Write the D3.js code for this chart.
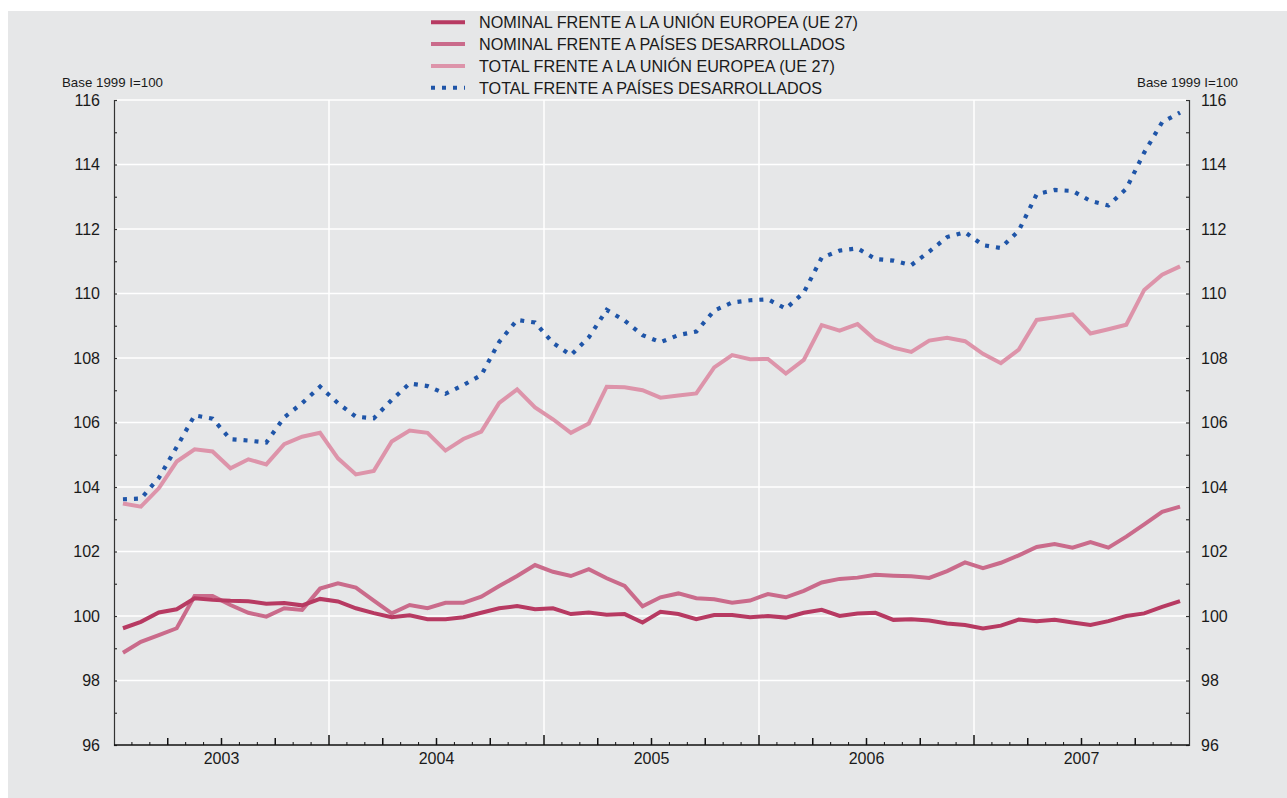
<!DOCTYPE html>
<html>
<head>
<meta charset="utf-8">
<script src="https://cdn.jsdelivr.net/npm/d3@7"></script>
<style>
  body { margin: 0; background: #fff; }
  svg { display: block; font-family: "Liberation Sans", Arial, Helvetica, sans-serif; }
</style>
</head>
<body>
<svg id="chart" width="1287" height="798"></svg>
<script>
// years shown on the x axis, monthly data Jan 2003 - Dec 2007
var years = ["2003", "2004", "2005", "2006", "2007"];
var yTicks = [96, 98, 100, 102, 104, 106, 108, 110, 112, 114, 116];

var nominalUE = [
  99.62, 99.82, 100.11, 100.21, 100.55, 100.50, 100.47, 100.46, 100.38, 100.40, 100.33, 100.53,
  100.45, 100.24, 100.09, 99.96, 100.02, 99.90, 99.90, 99.96, 100.10, 100.24, 100.31, 100.21,
  100.24, 100.06, 100.11, 100.04, 100.06, 99.80, 100.13, 100.06, 99.90, 100.03, 100.03, 99.96,
  100.00, 99.95, 100.10, 100.19, 100.00, 100.08, 100.10, 99.88, 99.90, 99.86, 99.77, 99.72,
  99.61, 99.70, 99.89, 99.84, 99.88, 99.80, 99.72, 99.84, 100.00, 100.08, 100.28, 100.46
];
var nominalDes = [
  98.86, 99.20, 99.41, 99.62, 100.62, 100.62, 100.34, 100.10, 99.98, 100.24, 100.19, 100.85,
  101.01, 100.88, 100.48, 100.08, 100.34, 100.24, 100.41, 100.41, 100.60, 100.93, 101.24, 101.58,
  101.37, 101.24, 101.45, 101.17, 100.93, 100.30, 100.58, 100.70, 100.55, 100.52, 100.41, 100.48,
  100.68, 100.58, 100.78, 101.04, 101.15, 101.19, 101.28, 101.25, 101.23, 101.18, 101.39, 101.66,
  101.48, 101.65, 101.88, 102.14, 102.23, 102.12, 102.29, 102.12, 102.46, 102.84, 103.23, 103.39
];
var totalUE = [
  103.49, 103.39, 103.96, 104.79, 105.17, 105.10, 104.58, 104.86, 104.70, 105.33, 105.56, 105.68,
  104.89, 104.39, 104.50, 105.41, 105.75, 105.68, 105.13, 105.49, 105.72, 106.61, 107.03, 106.47,
  106.10, 105.68, 105.97, 107.11, 107.09, 107.00, 106.77, 106.84, 106.90, 107.71, 108.09, 107.96,
  107.97, 107.52, 107.94, 109.02, 108.85, 109.05, 108.56, 108.32, 108.19, 108.54, 108.63, 108.52,
  108.13, 107.84, 108.26, 109.18, 109.26, 109.35, 108.76, 108.89, 109.03, 110.11, 110.58, 110.84
];
var totalDes = [
  103.62, 103.64, 104.28, 105.24, 106.22, 106.12, 105.48, 105.44, 105.38, 106.16, 106.60, 107.11,
  106.60, 106.18, 106.13, 106.70, 107.21, 107.13, 106.89, 107.16, 107.47, 108.50, 109.18, 109.10,
  108.47, 108.09, 108.64, 109.49, 109.16, 108.71, 108.49, 108.71, 108.82, 109.47, 109.72, 109.79,
  109.82, 109.53, 110.03, 111.11, 111.33, 111.40, 111.07, 111.02, 110.88, 111.30, 111.75, 111.90,
  111.50, 111.41, 111.95, 113.08, 113.21, 113.18, 112.87, 112.73, 113.25, 114.37, 115.31, 115.61
];

var seriesNames = [
  "NOMINAL FRENTE A LA UNIÓN EUROPEA (UE 27)",
  "NOMINAL FRENTE A PAÍSES DESARROLLADOS",
  "TOTAL FRENTE A LA UNIÓN EUROPEA (UE 27)",
  "TOTAL FRENTE A PAÍSES DESARROLLADOS"
];
var seriesData = [nominalUE, nominalDes, totalUE, totalDes];
var seriesColors = ["#b73a62", "#ca6b8b", "#dd94aa", "#1f55a8"];

var svg = d3.select("#chart");
var plotL = 114, plotR = 1189, plotT = 100, plotB = 745;

// gray panel
svg.append("rect").attr("x", 8).attr("y", 11).attr("width", 1287 - 8).attr("height", 798 - 11)
    .attr("fill", "#e6e7e8");

var nMonths = years.length * 12;
var x = d3.scaleLinear().domain([0, nMonths]).range([plotL, plotR]);
var y = d3.scaleLinear().domain([96, 116]).range([plotB, plotT]);

// grid
svg.append("g").selectAll("line")
    .data(yTicks.filter(function(d) { return d > 96; }))
    .enter().append("line")
    .attr("x1", plotL).attr("x2", plotR)
    .attr("y1", function(d) { return y(d); }).attr("y2", function(d) { return y(d); })
    .attr("stroke", "#fff").attr("stroke-width", 1.5);
svg.append("g").selectAll("line")
    .data(d3.range(12, nMonths, 12))
    .enter().append("line")
    .attr("x1", function(d) { return x(d); }).attr("x2", function(d) { return x(d); })
    .attr("y1", plotT).attr("y2", plotB)
    .attr("stroke", "#fff").attr("stroke-width", 1.5);

// y axes (ticks point inward)
var yMinor = d3.range(96, 117, 1);
var leftAxis = d3.axisLeft(y).tickValues(yMinor).tickSize(-3).tickPadding(14)
    .tickFormat(function(d) { return d % 2 == 0 ? d : ""; });
var gl = svg.append("g").attr("transform", "translate(" + plotL + ",0)").call(leftAxis);
var rightAxis = d3.axisRight(y).tickValues(yMinor).tickSize(-3).tickPadding(12)
    .tickFormat(function(d) { return d % 2 == 0 ? d : ""; });
var gr = svg.append("g").attr("transform", "translate(" + plotR + ",0)").call(rightAxis);
[gl, gr].forEach(function(g) {
  g.select(".domain").attr("stroke", "#333").attr("stroke-width", 1.2);
  g.selectAll(".tick line").attr("stroke", "#333").attr("stroke-width", 1.2);
  g.selectAll(".tick text").attr("font-size", 16).attr("fill", "#1a1a1a")
      .attr("font-family", "Liberation Sans, Arial, sans-serif");
});

// x axis: month ticks, longer at quarters and years
var gx = svg.append("g");
gx.append("line").attr("x1", plotL).attr("x2", plotR).attr("y1", plotB).attr("y2", plotB)
    .attr("stroke", "#111").attr("stroke-width", 1.6);
gx.selectAll("line.tk")
    .data(d3.range(1, nMonths))
    .enter().append("line").attr("class", "tk")
    .attr("x1", function(d) { return x(d); }).attr("x2", function(d) { return x(d); })
    .attr("y1", plotB)
    .attr("y2", function(d) { return plotB - (d % 12 == 0 ? 10 : (d % 3 == 0 ? 7 : 3)); })
    .attr("stroke", "#111").attr("stroke-width", function(d) { return d % 3 == 0 ? 1.5 : 1; });
gx.selectAll("text")
    .data(years)
    .enter().append("text")
    .attr("x", function(d, i) { return x(i * 12 + 6); })
    .attr("y", 764)
    .attr("text-anchor", "middle").attr("font-size", 16).attr("fill", "#1a1a1a")
    .text(function(d) { return d; });

// unit labels
svg.append("text").attr("x", 62).attr("y", 87).attr("font-size", 13.3).attr("fill", "#1a1a1a")
    .text("Base 1999 I=100");
svg.append("text").attr("x", 1238).attr("y", 87).attr("text-anchor", "end").attr("font-size", 13.3)
    .attr("fill", "#1a1a1a").text("Base 1999 I=100");

// lines
var line = d3.line()
    .x(function(d, i) { return x(i + 0.5); })
    .y(function(d) { return y(d); });

// draw from back to front: blue dotted, light, medium, dark
[3, 2, 1, 0].forEach(function(k) {
  var p = svg.append("path").datum(seriesData[k])
      .attr("d", line).attr("fill", "none")
      .attr("stroke", seriesColors[k])
      .attr("stroke-width", 4);
  if (k == 3) {
    p.attr("stroke-dasharray", "4,7").attr("stroke-width", 4.2);
  }
});

// legend
var legend = svg.append("g");
var rows = legend.selectAll("g").data(seriesNames).enter().append("g")
    .attr("transform", function(d, i) { return "translate(0," + (22.3 + i * 21.8) + ")"; });
rows.append("line").attr("x1", 431).attr("x2", 465).attr("y1", 0).attr("y2", 0)
    .attr("stroke", function(d, i) { return seriesColors[i]; })
    .attr("stroke-width", 4)
    .attr("stroke-dasharray", function(d, i) { return i == 3 ? "4,7" : null; });
rows.append("text").attr("x", 479).attr("y", 5.8).attr("font-size", 16.2).attr("fill", "#1a1a1a")
    .text(function(d) { return d; });
</script>
</body>
</html>
